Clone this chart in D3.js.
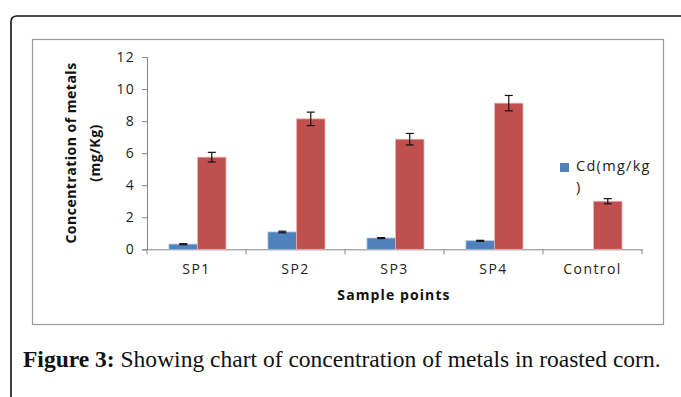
<!DOCTYPE html>
<html>
<head>
<meta charset="utf-8">
<script src="https://cdn.jsdelivr.net/npm/d3@7"></script>
<style>
  body { margin: 0; background: #fff; }
  svg { display: block; }
</style>
</head>
<body>
<div class="chartContainer"></div>
<script>
var categories = ["SP1", "SP2", "SP3", "SP4", "Control"];
var cdValues = [0.32, 1.08, 0.7, 0.53, 0];
var cdErrors = [0.03, 0.05, 0.03, 0.03, 0];
var pbValues = [5.75, 8.14, 6.87, 9.12, 3.0];
var pbErrors = [0.3, 0.42, 0.36, 0.48, 0.16];
var yTicks = [0, 2, 4, 6, 8, 10, 12];

var width = 681;
var height = 397;

var svg = d3.select(".chartContainer")
  .append("svg")
    .attr("width", width)
    .attr("height", height);

// ======= frames ========

// outer page frame (rounded corner top-left, runs off right and bottom)
svg.append("path")
    .attr("d", "M11,400 L11,22 Q11,16 17,16 L690,16")
    .style("fill", "none")
    .style("stroke", "#111")
    .style("stroke-width", 1.6);

// chart area box
svg.append("rect")
    .attr("x", 32.5).attr("y", 39.5)
    .attr("width", 631).attr("height", 285)
    .style("fill", "none")
    .style("stroke", "#9a9a9a")
    .style("stroke-width", 1.2);

// ======= scales ========

var x = d3.scaleBand()
    .domain(categories)
    .range([147, 642]);

var y = d3.scaleLinear()
    .domain([0, 12])
    .range([249.3, 57]);

var series = ["Cd", "Pb"];
var xInner = d3.scaleBand()
    .domain(series)
    .range([22, 22 + 57]);

var colors = { Cd: "#4F81BD", Pb: "#C0504D" };

var plot = svg.append("g").attr("class", "plot");

// ======= axes ========

var yAxis = plot.append("g")
    .attr("transform", "translate(147,0)")
    .call(d3.axisLeft(y).tickValues(yTicks).tickSize(5).tickPadding(7));

yAxis.select(".domain").style("stroke", "#868686");
yAxis.selectAll(".tick line").style("stroke", "#868686");
yAxis.selectAll(".tick text")
    .style("font-family", "'Open Sans', sans-serif")
    .style("font-size", "14px")
    .style("letter-spacing", "1.3px")
    .style("fill", "#222");

var xAxis = plot.append("g")
    .attr("transform", "translate(0," + y(0) + ")")
    .call(d3.axisBottom(x).tickSize(0).tickPadding(15));

xAxis.select(".domain").style("stroke", "#868686");
xAxis.selectAll(".tick text")
    .style("font-family", "'Open Sans', sans-serif")
    .style("font-size", "14px")
    .style("letter-spacing", "1.4px")
    .style("fill", "#222");

// tick marks between categories
var boundaries = categories.map(function(c){ return x(c); }).concat([x.range()[1]]);
plot.selectAll(".catTick")
    .data(boundaries)
  .enter().append("line")
    .attr("class", "catTick")
    .attr("x1", function(d){ return d; })
    .attr("x2", function(d){ return d; })
    .attr("y1", y(0))
    .attr("y2", y(0) + 5)
    .style("stroke", "#868686");

// ======= bars ========

var rows = categories.map(function(c, i) {
    return [
        { cat: c, key: "Cd", value: cdValues[i], err: cdErrors[i] },
        { cat: c, key: "Pb", value: pbValues[i], err: pbErrors[i] }
    ];
});

var groups = plot.selectAll(".group")
    .data(rows)
  .enter().append("g")
    .attr("class", "group")
    .attr("transform", function(d){ return "translate(" + x(d[0].cat) + ",0)"; });

groups.selectAll(".bar")
    .data(function(d){ return d.filter(function(e){ return e.value > 0; }); })
  .enter().append("rect")
    .attr("class", "bar")
    .attr("x", function(d){ return xInner(d.key); })
    .attr("y", function(d){ return y(d.value); })
    .attr("width", xInner.bandwidth())
    .attr("height", function(d){ return y(0) - y(d.value); })
    .style("fill", function(d){ return colors[d.key]; })
    .style("stroke", function(d){ return d.key == "Pb" ? "#e8b4b2" : "#9db8da"; })
    .style("stroke-width", 0.8);

// error bars
var err = groups.selectAll(".err")
    .data(function(d){ return d.filter(function(e){ return e.value > 0; }); })
  .enter().append("g")
    .attr("class", "err")
    .attr("transform", function(d){ return "translate(" + (xInner(d.key) + xInner.bandwidth() / 2) + ",0)"; });

err.append("line")
    .attr("x1", 0).attr("x2", 0)
    .attr("y1", function(d){ return y(d.value + d.err); })
    .attr("y2", function(d){ return y(d.value - d.err); });

err.append("line")
    .attr("x1", -4).attr("x2", 4)
    .attr("y1", function(d){ return y(d.value + d.err); })
    .attr("y2", function(d){ return y(d.value + d.err); });

err.append("line")
    .attr("x1", -4).attr("x2", 4)
    .attr("y1", function(d){ return y(d.value - d.err); })
    .attr("y2", function(d){ return y(d.value - d.err); });

err.selectAll("line")
    .style("stroke", "#111")
    .style("stroke-width", 1.2);

// ======= titles ========

var yTitle = svg.append("text")
    .attr("transform", "translate(76,153) rotate(-90)")
    .attr("text-anchor", "middle")
    .style("font-family", "'Open Sans', sans-serif")
    .style("font-weight", "bold")
    .style("font-size", "14px")
    .style("letter-spacing", "0.5px")
    .style("fill", "#111");

yTitle.append("tspan").attr("x", 0).attr("y", 0).text("Concentration of metals");
yTitle.append("tspan").attr("x", 0).attr("y", 24).text("(mg/Kg)");

svg.append("text")
    .attr("x", 394)
    .attr("y", 300)
    .attr("text-anchor", "middle")
    .style("font-family", "'Open Sans', sans-serif")
    .style("font-weight", "bold")
    .style("font-size", "14px")
    .style("letter-spacing", "1.1px")
    .style("fill", "#111")
    .text("Sample points");

// ======= legend ========

svg.append("rect")
    .attr("x", 560).attr("y", 163)
    .attr("width", 9).attr("height", 9)
    .style("fill", colors.Cd);

var legendText = svg.append("text")
    .style("font-family", "'Open Sans', sans-serif")
    .style("font-size", "14.5px")
    .style("letter-spacing", "1.3px")
    .style("fill", "#222");

legendText.append("tspan").attr("x", 576).attr("y", 171).text("Cd(mg/kg");
legendText.append("tspan").attr("x", 576).attr("y", 192).text(")");

// ======= caption ========

var caption = svg.append("text")
    .attr("x", 23)
    .attr("y", 367)
    .style("font-family", "'Liberation Serif', serif")
    .style("font-size", "19px")
    .style("fill", "#111");

caption.append("tspan").style("font-weight", "bold").text("Figure 3:");
caption.append("tspan").text(" Showing chart of concentration of metals in roasted corn.");

// fit caption to width seen in the figure
var capLen = caption.node().getComputedTextLength();
caption.style("font-size", (19 * 638 / capLen) + "px");
</script>
</body>
</html>
